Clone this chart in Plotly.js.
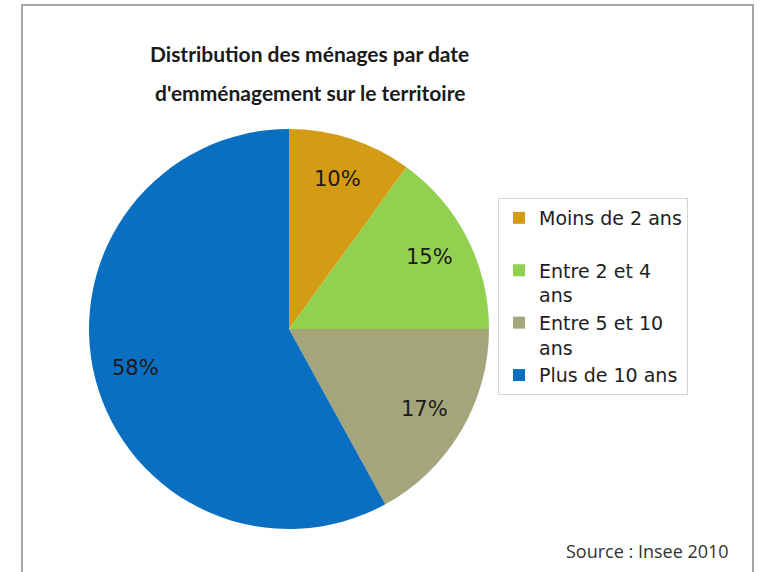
<!DOCTYPE html>
<html>
<head>
<meta charset="utf-8">
<script src="https://cdn.plot.ly/plotly-3.0.1.min.js"></script>
<style>html,body{margin:0;padding:0;background:#fff;}#chart{width:760px;height:572px;}</style>
</head>
<body>
<div id="chart"></div>
<script>
// ---- data ----
const categories = ["Moins de 2 ans", "Entre 2 et 4 ans", "Entre 5 et 10 ans", "Plus de 10 ans"];
const shares = [10, 15, 17, 58];
const sliceColors = ["#D49C14", "#92D050", "#A4A57A", "#0A6FC0"];
const titleLines = ["Distribution des ménages par date", "d'emménagement sur le territoire"];
const sourceNote = "Source : Insee 2010";

// legend display names (wrapped like the original legend)
const legendNames = [
  "Moins de 2 ans<br> ",
  "Entre 2 et 4<br>ans",
  "Entre 5 et 10<br>ans",
  "Plus de 10 ans"
];

const W = 760, H = 572;
const px = x => x / W;
const py = y => 1 - y / H;

// pie geometry (pixels)
const CX = 289, CY = 329, R = 200;
const labelRadius = 0.79;

const trace = {
  type: "pie",
  labels: legendNames,
  values: shares,
  sort: false,
  direction: "clockwise",
  rotation: 0,
  marker: { colors: sliceColors, line: { width: 0 } },
  textinfo: "none",
  hoverinfo: "label+percent",
  domain: { x: [px(CX - R), px(CX + R)], y: [py(CY + R), py(CY - R)] }
};

// percentage labels placed at each slice's mid-angle, derived from the data
const total = shares.reduce((a, b) => a + b, 0);
let cum = 0;
const pctAnnotations = shares.map(v => {
  const mid = (cum + v / 2) / total * 2 * Math.PI;
  cum += v;
  const x = CX + labelRadius * R * Math.sin(mid);
  const y = CY - labelRadius * R * Math.cos(mid);
  return {
    text: Math.round(v / total * 100) + "%", xref: "paper", yref: "paper",
    x: px(x), y: py(y), xanchor: "center", yanchor: "middle", showarrow: false,
    font: { family: "DejaVu Sans, sans-serif", size: 21, color: "#1b1b1b" }
  };
});

const layout = {
  width: W, height: H,
  margin: { l: 0, r: 0, t: 0, b: 0 },
  paper_bgcolor: "#ffffff",
  showlegend: true,
  legend: {
    x: px(498), y: py(198), xanchor: "left", yanchor: "top",
    font: { family: "DejaVu Sans, sans-serif", size: 19, color: "#1e1e1e" },
    valign: "top",
    bordercolor: "#d4d4d4", borderwidth: 1,
    bgcolor: "rgba(0,0,0,0)"
  },
  shapes: [
    { type: "rect", xref: "paper", yref: "paper",
      x0: px(22), x1: px(753), y0: -0.05, y1: py(5),
      line: { color: "#a6a6a6", width: 2 }, fillcolor: "rgba(0,0,0,0)" }
  ],
  annotations: [
    { text: "<b>" + titleLines[0] + "</b>", xref: "paper", yref: "paper",
      x: px(309), y: py(53), xanchor: "center", yanchor: "middle", showarrow: false,
      font: { family: "Lato, sans-serif", size: 21, color: "#1a1a1a" } },
    { text: "<b>" + titleLines[1] + "</b>", xref: "paper", yref: "paper",
      x: px(310), y: py(92), xanchor: "center", yanchor: "middle", showarrow: false,
      font: { family: "Lato, sans-serif", size: 21, color: "#1a1a1a" } },
    { text: sourceNote, xref: "paper", yref: "paper",
      x: px(731), y: py(551), xanchor: "right", yanchor: "middle", showarrow: false,
      font: { family: "Open Sans, sans-serif", size: 18, color: "#333333" } }
  ].concat(pctAnnotations)
};

Plotly.newPlot("chart", [trace], layout, { displayModeBar: false, staticPlot: true });
</script>
</body>
</html>
